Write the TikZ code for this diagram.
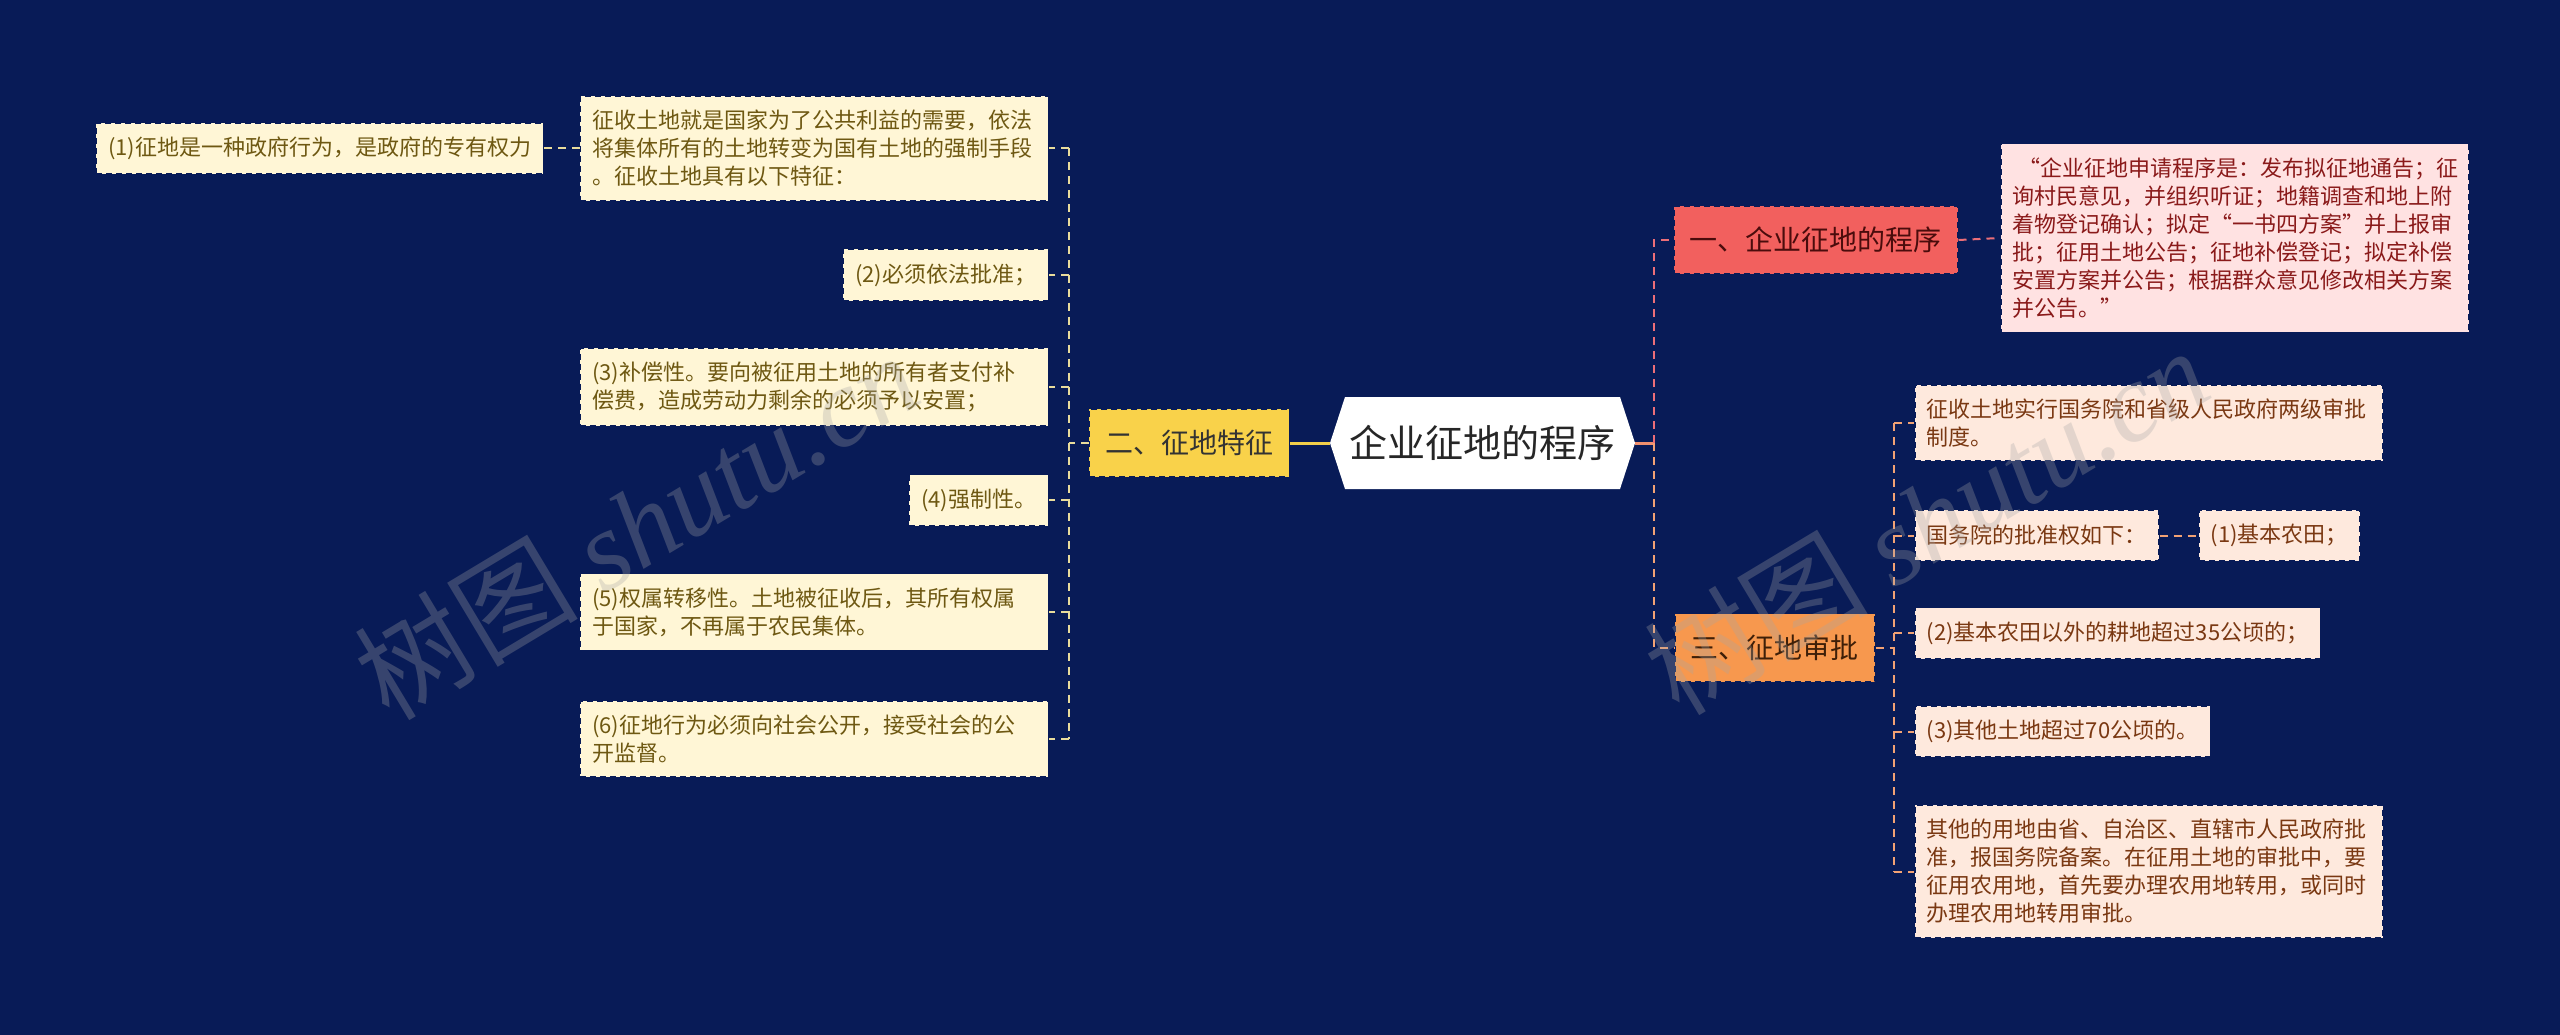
\documentclass[tikz,border=0pt]{standalone}
\usepackage{fontspec}
\setmainfont{Noto Sans CJK SC}
\newfontfamily\wmlat{Liberation Serif}
\usetikzlibrary{calc}
\definecolor{bg}{HTML}{081B57}
\definecolor{cream}{HTML}{FFF6D6}
\definecolor{olivetxt}{HTML}{6E5812}
\definecolor{ybox}{HTML}{F9D24A}
\definecolor{yline}{HTML}{F2CF4A}
\definecolor{lconncol}{HTML}{E9DC9C}
\definecolor{redbox}{HTML}{F2605E}
\definecolor{redtxt}{HTML}{4A0C0C}
\definecolor{pinkbox}{HTML}{FFE2E2}
\definecolor{pinktxt}{HTML}{8A1A1A}
\definecolor{rconncol}{HTML}{EC6E78}
\definecolor{orangebox}{HTML}{F7984E}
\definecolor{orangetxt}{HTML}{3E1F08}
\definecolor{peachbox}{HTML}{FEE9DD}
\definecolor{peachtxt}{HTML}{7A3812}
\definecolor{oconncol}{HTML}{F2A274}
\definecolor{salmon}{HTML}{F0906E}
\begin{document}
\begin{tikzpicture}[x=1pt,y=-1pt,
  leaf/.style={draw=bg, dash pattern=on 6pt off 4pt, line width=1.5pt, inner xsep=12pt, inner ysep=14pt, minimum height=51pt, align=left, font=\fontsize{22}{28}\selectfont},
  lleaf/.style={leaf, fill=cream, text=olivetxt},
  pleaf/.style={leaf, fill=pinkbox, text=pinktxt},
  oleaf/.style={leaf, fill=peachbox, text=peachtxt},
  midbox/.style={draw=bg, dash pattern=on 6pt off 4pt, line width=1.5pt, minimum height=68pt, inner xsep=16pt, font=\fontsize{28}{34}\selectfont},
  conn/.style={dash pattern=on 8pt off 6pt, line width=2pt},
  lconn/.style={conn, draw=lconncol},
  rconn/.style={conn, draw=rconncol},
  oconn/.style={conn, draw=oconncol},
  wm/.style={text=gray!70, opacity=0.3, font=\fontsize{112}{112}\selectfont}
]
\useasboundingbox (0,0) rectangle (2560,1035);
\fill[bg] (0,0) rectangle (2560,1035);

% central hexagon
\fill[white] (1330,443) -- (1345,397) -- (1620,397) -- (1635,443) -- (1620,489) -- (1345,489) -- cycle;
\node[minimum width=305pt, minimum height=92pt, inner sep=0pt, text=black!85, font=\fontsize{38}{44}\selectfont] (C) at (1482.5,443) {企业征地的程序};

% level one
\node[midbox, fill=ybox, text=black!80, anchor=east] (Y) at (1290,443) {二、征地特征};
\node[midbox, fill=redbox, text=redtxt, anchor=west] (R1) at (1673,240) {一、企业征地的程序};
\node[midbox, fill=orangebox, text=orangetxt, anchor=west] (R3) at (1674,647.5) {三、征地审批};

% left leaves
\node[lleaf, text width=444pt, anchor=east] (L0) at (1049,148.5) {征收土地就是国家为了公共利益的需要，依法\\将集体所有的土地转变为国有土地的强制手段\\。征收土地具有以下特征：};
\node[lleaf, anchor=east] (L1) at (544,148.5) {(1)征地是一种政府行为，是政府的专有权力};
\node[lleaf, anchor=east] (L2) at (1049,275) {(2)必须依法批准；};
\node[lleaf, text width=444pt, anchor=east] (L3) at (1049,387) {(3)补偿性。要向被征用土地的所有者支付补\\偿费，造成劳动力剩余的必须予以安置；};
\node[lleaf, anchor=east] (L4) at (1049,500) {(4)强制性。};
\node[lleaf, text width=444pt, anchor=east] (L5) at (1049,612) {(5)权属转移性。土地被征收后，其所有权属\\于国家，不再属于农民集体。};
\node[lleaf, text width=444pt, anchor=east] (L6) at (1049,739) {(6)征地行为必须向社会公开，接受社会的公\\开监督。};

% right leaves
\node[pleaf, text width=444pt, anchor=west] (R1a) at (2000,238) {\hspace{6pt}“企业征地申请程序是：发布拟征地通告；征\\询村民意见，并组织听证；地籍调查和地上附\\着物登记确认；拟定“一书四方案”并上报审\\批；征用土地公告；征地补偿登记；拟定补偿\\安置方案并公告；根据群众意见修改相关方案\\并公告。”};
\node[oleaf, text width=444pt, anchor=west] (R3a) at (1914,423) {征收土地实行国务院和省级人民政府两级审批\\制度。};
\node[oleaf, anchor=west] (R3b) at (1914,535.5) {国务院的批准权如下：};
\node[oleaf, anchor=west] (R3c) at (2198,535.5) {(1)基本农田；};
\node[oleaf, anchor=west] (R3d) at (1914,633) {(2)基本农田以外的耕地超过35公顷的；};
\node[oleaf, anchor=west] (R3e) at (1914,731.5) {(3)其他土地超过70公顷的。};
\node[oleaf, text width=444pt, anchor=west] (R3f) at (1914,871.5) {其他的用地由省、自治区、直辖市人民政府批\\准，报国务院备案。在征用土地的审批中，要\\征用农用地，首先要办理农用地转用，或同时\\办理农用地转用审批。};

% left connectors
\coordinate (lj) at (1069,443);
\draw[draw=yline, line width=3pt] (C.west) -- (Y.east);
\draw[lconn] (Y.west) -- (lj);
\draw[lconn] (lj |- L0.east) -- (lj |- L6.east);
\foreach \n in {L0,L2,L3,L4,L5,L6} \draw[lconn] (lj |- \n.east) -- (\n.east);
\draw[lconn] (L0.west) -- (L1.east);

% right connectors
\coordinate (rj) at (1654,443);
\draw[draw=salmon, line width=3pt] (C.east) -- (rj);
\draw[rconn] (rj) -- (rj |- R1.west) -- (R1.west);
\draw[oconn] (rj) -- (rj |- R3.west) -- (R3.west);
\draw[rconn] (R1.east) -- (R1a.west);
\coordinate (oj) at (1894,647.5);
\draw[oconn] (R3.east) -- (oj);
\draw[oconn] (oj |- R3a.west) -- (oj |- R3f.west);
\foreach \n in {R3a,R3b,R3d,R3e,R3f} \draw[oconn] (oj |- \n.west) -- (\n.west);
\draw[oconn] (R3b.east) -- (R3c.west);

% watermarks
\node[wm, rotate=31] (wm1) at (636,525) {树图 {\wmlat\itshape shutu.cn}};
\node[wm, rotate=31] (wm2) at (1926,520) {树图 {\wmlat\itshape shutu.cn}};
\end{tikzpicture}
\end{document}
